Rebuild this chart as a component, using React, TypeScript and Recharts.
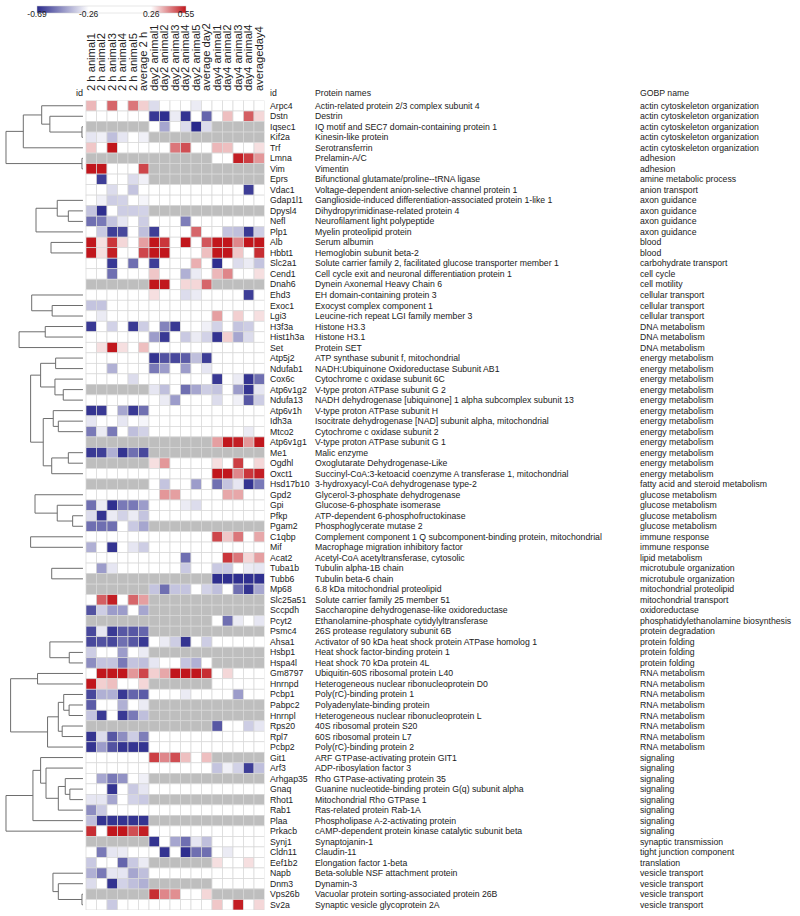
import { Scatter, ScatterChart, XAxis, YAxis } from "recharts";

const _ = null;

const columnLabels = [
  "2 h animal1", "2 h animal2", "2 h animal3", "2 h animal4", "2 h animal5", "average  2 h",
  "day2 animal1", "day2 animal2", "day2 animal3", "day2 animal4", "day2 animal5", "average day2",
  "day4 animal1", "day4 animal2", "day4 animal3", "day4 animal4", "averageday4",
];

const geneIds = [
  "Arpc4", "Dstn", "Iqsec1", "Kif2a", "Trf", "Lmna", "Vim", "Eprs", "Vdac1", "Gdap1l1",
  "Dpysl4", "Nefl", "Plp1", "Alb", "Hbbt1", "Slc2a1", "Cend1", "Dnah6", "Ehd3", "Exoc1",
  "Lgi3", "H3f3a", "Hist1h3a", "Set", "Atp5j2", "Ndufab1", "Cox6c", "Atp6v1g2", "Ndufa13", "Atp6v1h",
  "Idh3a", "Mtco2", "Atp6v1g1", "Me1", "Ogdhl", "Oxct1", "Hsd17b10", "Gpd2", "Gpi", "Pfkp",
  "Pgam2", "C1qbp", "Mif", "Acat2", "Tuba1b", "Tubb6", "Mp68", "Slc25a51", "Sccpdh", "Pcyt2",
  "Psmc4", "Ahsa1", "Hsbp1", "Hspa4l", "Gm8797", "Hnrnpd", "Pcbp1", "Pabpc2", "Hnrnpl", "Rps20",
  "Rpl7", "Pcbp2", "Git1", "Arf3", "Arhgap35", "Gnaq", "Rhot1", "Rab1", "Plaa", "Prkacb",
  "Synj1", "Cldn11", "Eef1b2", "Napb", "Dnm3", "Vps26b", "Sv2a",
];

const proteinNames = [
  "Actin-related protein 2/3 complex subunit 4",
  "Destrin",
  "IQ motif and SEC7 domain-containing protein 1",
  "Kinesin-like protein",
  "Serotransferrin",
  "Prelamin-A/C",
  "Vimentin",
  "Bifunctional glutamate/proline--tRNA ligase",
  "Voltage-dependent anion-selective channel protein 1",
  "Ganglioside-induced differentiation-associated protein 1-like 1",
  "Dihydropyrimidinase-related protein 4",
  "Neurofilament light polypeptide",
  "Myelin proteolipid protein",
  "Serum albumin",
  "Hemoglobin subunit beta-2",
  "Solute carrier family 2, facilitated glucose transporter member 1",
  "Cell cycle exit and neuronal differentiation protein 1",
  "Dynein Axonemal Heavy Chain 6",
  "EH domain-containing protein 3",
  "Exocyst complex component 1",
  "Leucine-rich repeat LGI family member 3",
  "Histone H3.3",
  "Histone H3.1",
  "Protein SET",
  "ATP synthase subunit f, mitochondrial",
  "NADH:Ubiquinone Oxidoreductase Subunit AB1",
  "Cytochrome c oxidase subunit 6C",
  "V-type proton ATPase subunit G 2",
  "NADH dehydrogenase [ubiquinone] 1 alpha subcomplex subunit 13",
  "V-type proton ATPase subunit H",
  "Isocitrate dehydrogenase [NAD] subunit alpha, mitochondrial",
  "Cytochrome c oxidase subunit 2",
  "V-type proton ATPase subunit G 1",
  "Malic enzyme",
  "Oxoglutarate Dehydrogenase-Like",
  "Succinyl-CoA:3-ketoacid coenzyme A transferase 1, mitochondrial",
  "3-hydroxyacyl-CoA dehydrogenase type-2",
  "Glycerol-3-phosphate dehydrogenase",
  "Glucose-6-phosphate isomerase",
  "ATP-dependent 6-phosphofructokinase",
  "Phosphoglycerate mutase 2",
  "Complement component 1 Q subcomponent-binding protein, mitochondrial",
  "Macrophage migration inhibitory factor",
  "Acetyl-CoA acetyltransferase, cytosolic",
  "Tubulin alpha-1B chain",
  "Tubulin beta-6 chain",
  "6.8 kDa mitochondrial proteolipid",
  "Solute carrier family 25 member 51",
  "Saccharopine dehydrogenase-like oxidoreductase",
  "Ethanolamine-phosphate cytidylyltransferase",
  "26S protease regulatory subunit 6B",
  "Activator of 90 kDa heat shock protein ATPase homolog 1",
  "Heat shock factor-binding protein 1",
  "Heat shock 70 kDa protein 4L",
  "Ubiquitin-60S ribosomal protein L40",
  "Heterogeneous nuclear ribonucleoprotein D0",
  "Poly(rC)-binding protein 1",
  "Polyadenylate-binding protein",
  "Heterogeneous nuclear ribonucleoprotein L",
  "40S ribosomal protein S20",
  "60S ribosomal protein L7",
  "Poly(rC)-binding protein 2",
  "ARF GTPase-activating protein GIT1",
  "ADP-ribosylation factor 3",
  "Rho GTPase-activating protein 35",
  "Guanine nucleotide-binding protein G(q) subunit alpha",
  "Mitochondrial Rho GTPase 1",
  "Ras-related protein Rab-1A",
  "Phospholipase A-2-activating protein",
  "cAMP-dependent protein kinase catalytic subunit beta",
  "Synaptojanin-1",
  "Claudin-11",
  "Elongation factor 1-beta",
  "Beta-soluble NSF attachment protein",
  "Dynamin-3",
  "Vacuolar protein sorting-associated protein 26B",
  "Synaptic vesicle glycoprotein 2A",
];

const gobpNames = [
  "actin cytoskeleton organization", "actin cytoskeleton organization", "actin cytoskeleton organization",
  "actin cytoskeleton organization", "actin cytoskeleton organization",
  "adhesion", "adhesion",
  "amine metabolic process",
  "anion transport",
  "axon guidance", "axon guidance", "axon guidance", "axon guidance",
  "blood", "blood",
  "carbohydrate transport",
  "cell cycle",
  "cell motility",
  "cellular transport", "cellular transport", "cellular transport",
  "DNA metabolism", "DNA metabolism", "DNA metabolism",
  "energy metabolism", "energy metabolism", "energy metabolism", "energy metabolism",
  "energy metabolism", "energy metabolism", "energy metabolism", "energy metabolism",
  "energy metabolism", "energy metabolism", "energy metabolism", "energy metabolism",
  "fatty acid and steroid metabolism",
  "glucose metabolism", "glucose metabolism", "glucose metabolism", "glucose metabolism",
  "immune response", "immune response",
  "lipid metabolism",
  "microtubule organization", "microtubule organization",
  "mitochondrial proteolipid",
  "mitochondrial transport",
  "oxidoreductase",
  "phosphatidylethanolamine biosynthesis",
  "protein degradation",
  "protein folding", "protein folding", "protein folding",
  "RNA metabolism", "RNA metabolism", "RNA metabolism", "RNA metabolism",
  "RNA metabolism", "RNA metabolism", "RNA metabolism", "RNA metabolism",
  "signaling", "signaling", "signaling", "signaling",
  "signaling", "signaling", "signaling", "signaling",
  "synaptic transmission",
  "tight junction component",
  "translation",
  "vesicle transport", "vesicle transport", "vesicle transport", "vesicle transport",
];

// log ratios per row; null = not detected (grey)
const hour2Values: (number | null)[][] = [
  [0.35, 0, 0.45, 0, 0.43, 0.32],
  [0, 0, 0, 0, 0, 0],
  [_, _, _, _, _, _],
  [-0.31, -0.29, -0.39, -0.31, 0, -0.29],
  [0.33, 0, 0.55, 0, 0, 0],
  [_, _, _, _, _, _],
  [0.55, 0.55, 0, 0, 0, 0.49],
  [0, -0.65, 0, 0, -0.33, -0.29],
  [0, 0, -0.33, 0, -0.38, 0],
  [0, -0.29, -0.36, -0.35, 0, -0.28],
  [-0.38, -0.68, 0, -0.36, -0.36, -0.35],
  [-0.55, -0.53, -0.38, -0.31, 0, -0.36],
  [0, -0.37, -0.65, -0.63, 0, -0.39],
  [0.55, 0.3, 0.51, 0.31, 0, 0.38],
  [0.55, 0.3, 0.54, 0, 0, 0.49],
  [0, 0, -0.66, 0, -0.55, 0],
  [0, 0, -0.55, 0, 0, 0],
  [_, _, _, _, _, _],
  [0, 0, 0, 0, 0, 0],
  [-0.38, -0.38, 0, 0, 0, 0],
  [0, -0.3, 0, 0, 0, 0],
  [-0.66, 0, -0.35, 0, -0.66, -0.36],
  [0, 0, 0, 0, 0, 0],
  [0, 0.3, 0.55, 0.3, 0, 0.34],
  [0, 0, 0, 0, 0, 0],
  [0, 0, -0.42, 0, 0, 0],
  [0, 0, 0, 0, -0.33, 0],
  [_, _, _, _, _, _],
  [0, 0, 0, 0, 0, 0],
  [-0.67, -0.66, 0, -0.44, -0.66, -0.55],
  [-0.31, 0, 0, -0.31, 0, -0.28],
  [-0.53, -0.3, -0.53, 0, -0.39, -0.35],
  [_, _, _, _, _, _],
  [-0.66, -0.65, -0.42, -0.67, -0.55, -0.63],
  [_, _, _, _, _, _],
  [0, 0, 0, 0, 0, 0],
  [_, _, _, _, _, _],
  [0, 0, 0, 0, 0, 0],
  [-0.55, -0.3, -0.68, -0.53, -0.53, -0.46],
  [-0.33, -0.67, -0.3, -0.35, -0.3, -0.38],
  [-0.55, -0.55, -0.55, 0, -0.37, -0.44],
  [0, 0, 0, 0, 0, 0],
  [-0.42, 0, -0.67, 0, -0.31, -0.36],
  [0, 0, 0, 0, 0, 0],
  [0, -0.46, -0.31, 0, 0, 0],
  [_, _, _, _, _, _],
  [_, _, _, _, _, _],
  [0, 0.46, 0.54, 0, 0.45, 0.38],
  [-0.61, -0.36, -0.46, -0.46, 0, -0.44],
  [_, _, _, _, _, _],
  [-0.63, -0.31, -0.66, -0.6, -0.6, -0.57],
  [-0.63, -0.61, -0.63, -0.55, -0.6, -0.66],
  [-0.36, 0, 0, -0.46, 0, -0.3],
  [-0.49, -0.38, -0.38, -0.53, -0.38, -0.39],
  [0, 0.55, 0.55, 0.55, 0.39, 0.49],
  [0.55, 0.32, 0.34, 0, 0, 0.31],
  [-0.63, -0.42, -0.42, -0.66, -0.57, -0.59],
  [-0.59, 0, 0, -0.42, 0, -0.3],
  [-0.38, -0.66, 0, -0.66, -0.53, -0.39],
  [_, _, _, _, _, _],
  [-0.67, -0.33, -0.6, -0.49, -0.36, -0.52],
  [-0.67, -0.46, -0.61, -0.67, -0.67, -0.67],
  [0, 0, 0, 0, 0, 0],
  [0, 0, 0, 0, 0, 0],
  [0, -0.44, -0.53, -0.48, 0, -0.29],
  [0, 0, -0.67, 0, -0.37, -0.31],
  [-0.31, -0.31, -0.44, 0, -0.35, -0.37],
  [-0.49, -0.37, 0, 0, 0, 0],
  [-0.39, -0.67, -0.67, -0.67, -0.67, -0.67],
  [0.52, 0, 0.55, 0.55, 0.48, 0.54],
  [_, _, _, _, _, _],
  [0, -0.53, -0.31, -0.3, 0, 0],
  [-0.37, 0, 0, -0.57, -0.37, -0.3],
  [-0.42, -0.53, -0.31, -0.31, -0.44, -0.39],
  [-0.33, 0, -0.67, -0.35, -0.39, -0.42],
  [_, _, _, _, _, _],
  [0, 0, -0.37, 0, 0, 0],
];

const day2Values: (number | null)[][] = [
  [-0.33, 0, 0, 0, -0.3, 0],
  [-0.66, -0.68, -0.3, -0.67, 0, -0.57],
  [0, -0.44, 0, -0.33, -0.69, -0.33],
  [_, _, _, _, _, _],
  [0, 0, 0.43, 0.48, 0, 0],
  [_, _, _, _, _, _],
  [_, _, _, _, _, _],
  [_, _, _, _, _, _],
  [0, 0, 0, 0, 0, 0],
  [0, 0, 0, 0, 0, 0],
  [_, _, _, _, _, _],
  [0, 0, 0, -0.52, 0, 0],
  [-0.65, 0, 0, 0, 0.45, 0],
  [0.55, 0.51, 0, 0.55, 0, 0.47],
  [0.55, 0.55, 0, 0, 0, 0.34],
  [-0.65, 0, 0, 0, 0.36, 0],
  [0.33, 0, 0, -0.42, -0.3, 0],
  [0.55, 0.55, 0, 0.31, 0.31, 0.45],
  [0.3, 0, 0, -0.33, -0.3, 0],
  [0, 0, 0, 0, 0, 0],
  [0, 0, 0, 0, 0, 0],
  [0, -0.51, -0.66, 0, 0, -0.29],
  [-0.46, -0.66, 0, -0.37, -0.3, -0.35],
  [0, 0, 0, 0, 0, 0],
  [-0.67, -0.61, -0.63, -0.59, -0.39, -0.65],
  [-0.53, -0.46, 0, -0.46, 0, -0.31],
  [0, 0, 0, 0, 0, 0],
  [-0.31, -0.39, 0, -0.55, -0.44, -0.36],
  [0, -0.3, -0.46, 0, 0, 0],
  [0, 0, 0, 0, 0, 0],
  [0, 0, 0, 0, 0, 0],
  [0, 0, 0, 0, 0, 0],
  [_, _, _, _, _, _],
  [_, _, _, _, _, _],
  [0.3, 0.39, 0, 0, 0, 0],
  [0, 0, 0, 0, 0, 0],
  [0, -0.38, 0, 0, -0.46, 0],
  [0, 0.39, 0.38, 0, 0, 0],
  [0, 0, 0, -0.3, -0.33, 0],
  [0, 0, 0, 0, 0, 0],
  [_, _, _, _, _, _],
  [0, 0, 0, 0, 0, 0],
  [0, 0, 0, 0, 0, 0],
  [0, 0, 0, -0.55, 0, 0],
  [0, 0, 0, -0.37, 0, 0],
  [_, _, _, _, _, _],
  [-0.38, -0.55, -0.38, -0.38, 0, -0.35],
  [_, _, _, _, _, _],
  [_, _, _, _, _, _],
  [_, _, _, _, _, _],
  [_, _, _, _, _, _],
  [0, -0.3, -0.36, -0.67, 0, -0.36],
  [_, _, _, _, _, _],
  [-0.31, 0, 0, -0.38, -0.42, 0],
  [0.32, 0.37, 0.55, 0.55, 0.55, 0.52],
  [_, _, _, _, _, _],
  [0, 0, 0, -0.3, 0, 0],
  [_, _, _, _, _, _],
  [_, _, _, _, _, _],
  [_, _, _, _, _, _],
  [0, 0, 0, 0, 0, 0],
  [0, 0, 0, 0, 0, 0],
  [0.5, 0.41, 0.48, 0.34, 0, 0.34],
  [0, 0, 0, 0, 0, 0],
  [_, _, _, _, _, _],
  [0, 0, 0, 0, 0, 0],
  [_, _, _, _, _, _],
  [0, 0, 0, 0, 0, 0],
  [_, _, _, _, _, _],
  [0, 0, 0, 0, 0, 0],
  [-0.67, 0, -0.44, -0.55, -0.31, -0.39],
  [0, -0.67, 0, -0.68, -0.55, -0.55],
  [_, _, _, _, _, _],
  [0, 0, 0, 0, 0, 0],
  [_, _, _, _, _, _],
  [0.52, 0.41, 0.4, 0, 0, 0.31],
  [0, 0, 0, 0, 0, 0],
];

const day4Values: (number | null)[][] = [
  [0, 0, 0, 0, 0],
  [0, 0.34, 0, 0.46, 0.31],
  [_, _, _, _, _],
  [_, _, _, _, _],
  [0.35, 0.34, 0, 0, 0.3],
  [0, 0, 0.54, 0.5, 0.39],
  [_, _, _, _, _],
  [_, _, _, _, _],
  [0, 0, 0, -0.65, 0],
  [0, 0, 0, 0, 0],
  [_, _, _, _, _],
  [0, 0, 0, 0, 0],
  [0, -0.38, -0.39, -0.66, -0.36],
  [0.55, 0.55, 0.41, 0.55, 0.55],
  [0.55, 0.55, 0.33, 0, 0.52],
  [-0.68, 0, -0.33, -0.3, -0.38],
  [0.35, 0.41, 0, 0, 0.3],
  [_, _, _, _, _],
  [0, 0, 0, -0.65, 0],
  [0, 0, 0, 0, 0],
  [0.38, 0, 0.32, 0, 0.3],
  [-0.35, 0, -0.38, -0.36, 0],
  [-0.67, 0.32, -0.44, -0.33, 0],
  [0, 0, 0, 0, 0],
  [0, 0, 0, 0, 0],
  [0, 0, 0, 0, 0],
  [-0.66, 0, -0.3, -0.67, -0.55],
  [-0.38, 0, -0.46, -0.67, -0.31],
  [-0.33, 0, -0.29, -0.6, -0.36],
  [0, 0, 0, 0, 0],
  [0, 0, 0, 0, 0],
  [0, 0, 0, -0.3, 0],
  [0.38, 0.55, 0.54, 0.39, 0.55],
  [_, _, _, _, _],
  [0.3, 0, 0.5, 0, 0.31],
  [0.55, 0.55, 0.41, 0.51, 0.54],
  [-0.55, -0.38, -0.31, -0.67, -0.53],
  [0, 0.37, 0.37, 0, 0],
  [0, 0, 0, 0, 0],
  [0, 0, 0, 0, 0],
  [_, _, _, _, _],
  [0.49, 0.33, 0.43, 0, 0.37],
  [0, 0, 0, 0, 0],
  [0, 0.51, 0.43, 0.31, 0.38],
  [-0.37, -0.37, 0, -0.3, -0.31],
  [-0.68, -0.68, -0.68, -0.68, -0.68],
  [-0.39, 0, -0.55, -0.67, -0.44],
  [_, _, _, _, _],
  [_, _, _, _, _],
  [0, -0.55, -0.3, 0, -0.31],
  [_, _, _, _, _],
  [0, 0, 0, 0, 0],
  [_, _, _, _, _],
  [_, _, _, _, _],
  [0, 0.31, 0, 0, 0],
  [0, 0, 0, 0, 0],
  [0, 0, -0.46, 0, 0],
  [_, _, _, _, _],
  [_, _, _, _, _],
  [-0.6, 0, 0, -0.36, -0.31],
  [0, 0, 0, 0, 0],
  [0, 0, 0, 0, 0],
  [_, _, _, _, _],
  [-0.38, -0.29, -0.35, -0.65, -0.39],
  [_, _, _, _, _],
  [0, 0, 0, 0, 0],
  [_, _, _, _, _],
  [0, 0, 0, 0, 0],
  [_, _, _, _, _],
  [0, 0, 0, 0, 0],
  [0, 0, 0, 0, 0],
  [0, -0.3, 0, 0, 0],
  [0.3, 0, 0, 0.3, 0],
  [0, 0, 0, 0, 0],
  [0, 0, 0, 0, 0],
  [_, _, _, _, _],
  [0.33, 0, 0.54, 0, 0.31],
];

// cluster trees: [merge height, upper branch, lower branch]; numbers are row indexes
type Tree = number | [number, Tree, Tree];
const clusterTrees: Tree[] = [
  [1.0, [0.775, [0.536, 0, [0.43, 1, [0.013, 2, 3]]], 4], [0.013, 5, 6]],
  [0.61, [0.334, 9, [0.19, 10, 11]], 12],
  [0.415, 13, 14],
  [0.666, 18, [0.4, 19, 20]],
  [0.83, [0.49, 21, 22], 23],
  [0.68,
    [0.55, [0.355, 24, 25], [0.364, 26, [0.256, 27, 28]]],
    [0.516, [0.386, 29, [0.32, 30, 31]], [0.406, [0.19, 33, 34], 35]]],
  [0.623, 37, [0.334, 38, [0.134, 39, 40]]],
  [0.68, 41, 42],
  [0.406, 44, 45],
  [0.43, 51, [0.178, 52, 53]],
  [0.94, [0.59, 54, 55], [0.46, [0.32, [0.25, 56, [0.18, 57, 58]], [0.27, 59, 60]], 61]],
  [1.0, [0.65, [0.55, 62, [0.48, 63, [0.32, [0.23, 64, [0.17, 65, 66]], 67]]], 68], 69],
  [0.39, 73, [0.32, 74, [0.013, 75, 76]]],
];

const legendTicks = [-0.69, -0.26, 0.26, 0.55];

const ROWS = geneIds.length;
const X_MIN = -8;
const X_MAX = 17;
const CHART_W = 800;
const CHART_H = 916;
const LEFT = 2;
const LABEL_W = 535.5;
const HEADER_H = 100.5;
const BOTTOM = 6;
const CELL_W = (CHART_W - LEFT - LABEL_W) / (X_MAX - X_MIN);
const CELL_H = (CHART_H - HEADER_H - BOTTOM) / ROWS;
const LEAF_X = -0.29;
const TREE_SCALE = 7.33;
const FONT = "'Liberation Sans', Arial, Helvetica, sans-serif";

const BLUE = [42, 42, 140];
const RED = [193, 22, 28];
const mix = (c: number[], t: number) =>
  `rgb(${c.map((v) => Math.round(255 + (v - 255) * t)).join(",")})`;

const cellColor = (v: number | null) => {
  if (v === null) return "#bebebe";
  if (v <= -0.26) return mix(BLUE, Math.min(1, (-0.26 - v) / 0.43));
  if (v >= 0.26) return mix(RED, Math.min(1, (v - 0.26) / 0.29));
  return "#ffffff";
};

const cells: { x: number; y: number; v: number | null }[] = [];
for (let r = 0; r < ROWS; r++) {
  const row = [...hour2Values[r], ...day2Values[r], ...day4Values[r]];
  row.forEach((v, c) => cells.push({ x: c + 0.5, y: r + 0.5, v }));
}

const links: { x: number; y: number }[][] = [];
const walk = (t: Tree): { x: number; y: number } => {
  if (typeof t === "number") return { x: LEAF_X, y: t + 0.5 };
  const a = walk(t[1]);
  const b = walk(t[2]);
  const nx = LEAF_X - t[0] * TREE_SCALE;
  links.push([a, { x: nx, y: a.y }, { x: nx, y: b.y }, b]);
  return { x: nx, y: (a.y + b.y) / 2 };
};
clusterTrees.forEach(walk);

const colTicks = columnLabels.map((_l, i) => i + 0.5);
const rowTicks = geneIds.map((_g, i) => i + 0.5);

const HeaderTick = (props: any) => {
  const { x, payload } = props;
  const label = columnLabels[Math.floor(payload.value)];
  return (
    <text
      transform={`translate(${x + 3.6},91) rotate(-90) scale(1.12,1)`}
      fontSize={10}
      fontFamily={FONT}
      fill="#222"
    >
      {label}
    </text>
  );
};

const RowTick = (props: any) => {
  const { y, payload } = props;
  const i = Math.floor(payload.value);
  return (
    <g fontSize={8.7} fontFamily={FONT} fill="#1a1a1a">
      <text x={270} y={y + 3}>{geneIds[i]}</text>
      <text x={315} y={y + 3}>{proteinNames[i]}</text>
      <text x={640} y={y + 3}>{gobpNames[i]}</text>
    </g>
  );
};

const ColorLegend = () => {
  const lx = (v: number) => 37 + ((v + 0.69) / 1.24) * 149;
  return (
    <svg width={300} height={30} style={{ position: "absolute", left: 0, top: 0 }}>
      <defs>
        <linearGradient id="lg" x1="0" x2="1" y1="0" y2="0">
          <stop offset="0" stopColor="rgb(42,42,140)" />
          <stop offset={(0.43 / 1.24).toFixed(3)} stopColor="#ffffff" />
          <stop offset={(0.95 / 1.24).toFixed(3)} stopColor="#ffffff" />
          <stop offset="1" stopColor="rgb(193,22,28)" />
        </linearGradient>
      </defs>
      <rect x={37} y={6} width={149} height={7} fill="url(#lg)" stroke="#d0d0d0" strokeWidth={0.5} />
      {legendTicks.map((t) => (
        <text key={t} x={lx(t)} y={17} fontSize={8.5} fontFamily={FONT} textAnchor="middle" fill="#222">
          {t.toFixed(2)}
        </text>
      ))}
    </svg>
  );
};

const App = () => (
  <div style={{ position: "absolute", left: 0, top: 0, width: CHART_W, height: CHART_H, background: "#fff" }}>
    <ScatterChart
      width={CHART_W}
      height={CHART_H}
      margin={{ top: 0, right: 0, bottom: BOTTOM, left: LEFT }}
    >
      <XAxis
        type="number"
        dataKey="x"
        orientation="top"
        domain={[X_MIN, X_MAX]}
        allowDataOverflow
        ticks={colTicks}
        interval={0}
        height={HEADER_H}
        axisLine={false}
        tickLine={false}
        tick={<HeaderTick />}
      />
      <YAxis
        type="number"
        dataKey="y"
        orientation="right"
        domain={[0, ROWS]}
        reversed
        allowDataOverflow
        ticks={rowTicks}
        interval={0}
        width={LABEL_W}
        axisLine={false}
        tickLine={false}
        tick={<RowTick />}
      />
      <Scatter
        data={cells}
        isAnimationActive={false}
        shape={(p: any) => (
          <rect
            x={p.cx - CELL_W / 2}
            y={p.cy - CELL_H / 2}
            width={CELL_W}
            height={CELL_H}
            fill={cellColor(p.payload.v)}
            stroke="#d8d8d8"
            strokeWidth={0.7}
          />
        )}
      />
      {links.map((pts, i) => (
        <Scatter
          key={`link-${i}`}
          data={pts}
          isAnimationActive={false}
          line={{ stroke: "#6e6e6e", strokeWidth: 1 }}
          shape={() => <g />}
        />
      ))}
    </ScatterChart>
    <svg width={20} height={12} style={{ position: "absolute", left: 72, top: 86 }}>
      <text x={4} y={10} fontSize={9} fontFamily={FONT} fill="#222">id</text>
    </svg>
    <svg width={420} height={12} style={{ position: "absolute", left: 265, top: 86 }}>
      <text x={5} y={10} fontSize={8.7} fontFamily={FONT} fill="#222">id</text>
      <text x={50} y={10} fontSize={8.7} fontFamily={FONT} fill="#222">Protein names</text>
    </svg>
    <svg width={100} height={12} style={{ position: "absolute", left: 635, top: 86 }}>
      <text x={5} y={10} fontSize={8.7} fontFamily={FONT} fill="#222">GOBP name</text>
    </svg>
    <ColorLegend />
  </div>
);

export default App;
